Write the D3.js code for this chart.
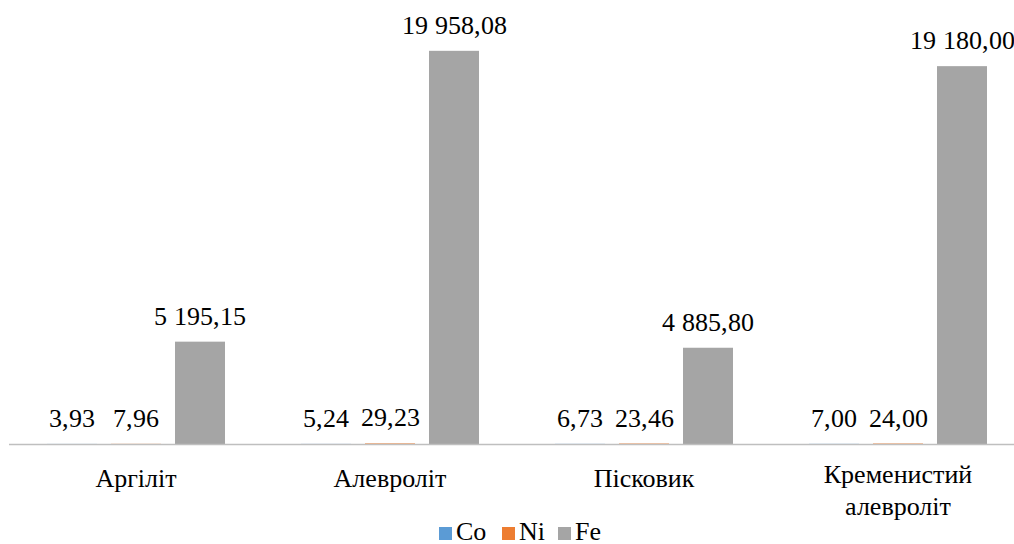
<!DOCTYPE html>
<html>
<head>
<meta charset="utf-8">
<script src="https://cdn.jsdelivr.net/npm/d3@7"></script>
<style>
  @font-face {
    font-family: "ChartSerif";
    src: local("Liberation Serif"), local("LiberationSerif"), local("LiberationSerif-Regular"), local("Times New Roman");
  }
  html, body { margin: 0; padding: 0; background: #fff; }
  svg { display: block; }
</style>
</head>
<body>
<svg id="chart" width="1014" height="544"></svg>
<script>
// Rock types (category labels, line breaks marked with \n)
const categories = ["Аргіліт", "Алевроліт", "Пісковик", "Кременистий\nалевроліт"];
const seriesNames = ["Co", "Ni", "Fe"];
const coValues = [3.93, 5.24, 6.73, 7.00];
const niValues = [7.96, 29.23, 23.46, 24.00];
const feValues = [5195.15, 19958.08, 4885.80, 19180.00];
const colors = ["#5B9BD5", "#ED7D31", "#A5A5A5"];

const series = [coValues, niValues, feValues];

const svg = d3.select("#chart");
const SVGNS = "http://www.w3.org/2000/svg";

const x0 = d3.scaleBand().domain(categories).range([9, 1025]).paddingInner(0).paddingOuter(0);
const x1 = d3.scaleBand().domain(seriesNames).range([-89, 89]).paddingInner(14 / 64).paddingOuter(0);
const y = d3.scaleLinear().domain([0, 20000]).range([444, 50]);

const fmt = v => {
  const s = d3.format(",.2f")(v);
  return s.replace(/,/g, " ").replace(".", ",");
};

// Plain DOM text helper
function addText(parent, str, x, yPos, anchor, family) {
  const t = document.createElementNS(SVGNS, "text");
  t.setAttribute("x", x);
  t.setAttribute("y", yPos);
  t.setAttribute("font-size", 26);
  t.setAttribute("font-family", family);
  if (anchor) t.setAttribute("text-anchor", anchor);
  t.textContent = str;
  parent.appendChild(t);
  return t;
}

const root = document.getElementById("chart");

// Bars
seriesNames.forEach((s, si) => {
  svg.append("g")
    .selectAll("rect")
    .data(series[si])
    .join("rect")
    .attr("x", (v, ci) => x0(categories[ci]) + x0.bandwidth() / 2 + x1(s))
    .attr("width", x1.bandwidth())
    .attr("y", v => y(v))
    .attr("height", v => y(0) - y(v))
    .attr("fill", colors[si]);
});

// Category axis line
svg.append("line")
  .attr("x1", 9).attr("x2", 1014)
  .attr("y1", y(0) + 0.5).attr("y2", y(0) + 0.5)
  .attr("stroke", "#BFBFBF")
  .attr("stroke-width", 1.5);

// Value labels above bars
seriesNames.forEach((s, si) => {
  series[si].forEach((v, ci) => {
    addText(root, fmt(v),
      x0(categories[ci]) + x0.bandwidth() / 2 + x1(s) + x1.bandwidth() / 2,
      y(v) - 17, "middle", "ChartSerif, Liberation Serif, serif");
  });
});

// Category labels
categories.forEach(cat => {
  const lines = cat.split("\n");
  lines.forEach((ln, i) => {
    addText(root, ln, x0(cat) + x0.bandwidth() / 2,
      (lines.length > 1 ? 483 : 487) + i * 32, "middle", "Liberation Serif");
  });
});

// Legend
const legendX = [439, 502, 558];
seriesNames.forEach((s, i) => {
  svg.append("rect")
    .attr("x", legendX[i]).attr("y", 527)
    .attr("width", 13).attr("height", 13)
    .attr("fill", colors[i]);
  addText(root, s, legendX[i] + 17, 540, null, "Times New Roman");
});
</script>
</body>
</html>
